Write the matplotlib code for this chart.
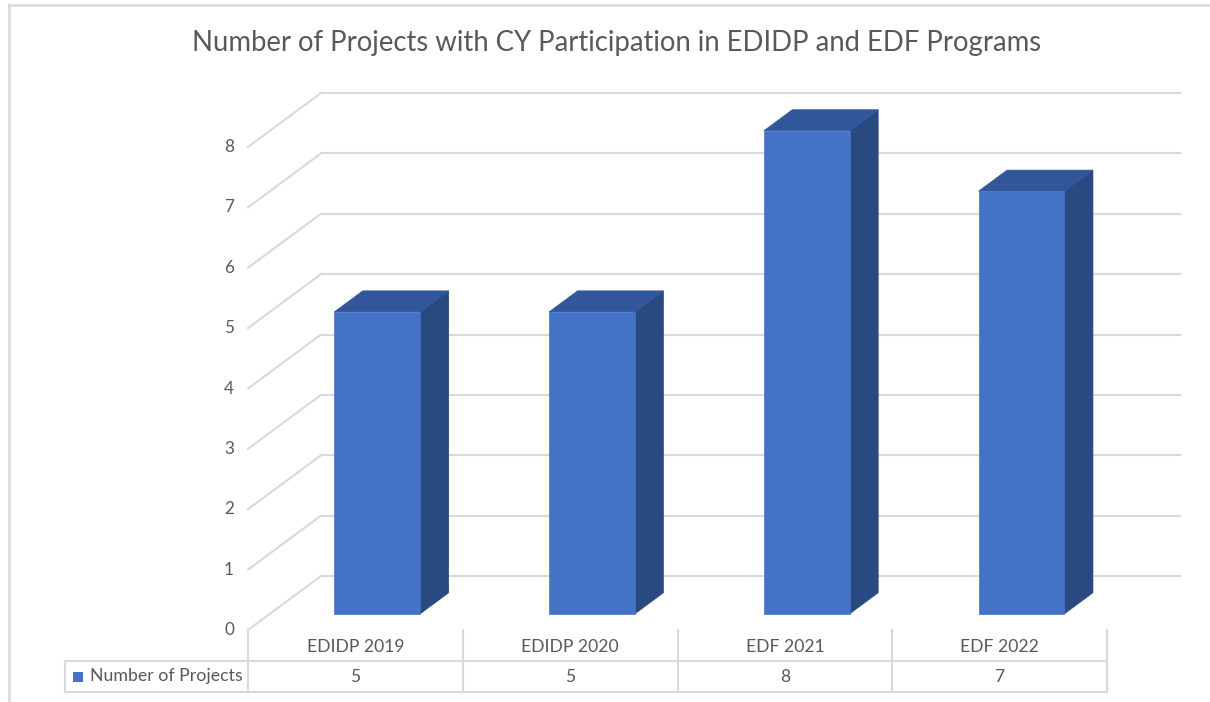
import matplotlib
matplotlib.use("Agg")
import matplotlib.pyplot as plt
from matplotlib.patches import Polygon, Rectangle
from matplotlib.lines import Line2D

# ---------------- data ----------------
categories = ["EDIDP 2019", "EDIDP 2020", "EDF 2021", "EDF 2022"]
values = [5, 5, 8, 7]
series_name = "Number of Projects"
title = "Number of Projects with CY Participation in EDIDP and EDF Programs"
y_ticks = [0, 1, 2, 3, 4, 5, 6, 7, 8]

# ---------------- style ----------------
FONT = ["Lato", "DejaVu Sans"]
TXT = "#595959"
GRID = "#D9D9D9"
C_FRONT = "#4472C4"
C_TOP = "#32569A"
C_SIDE = "#294A80"

W, H = 1210, 702
fig = plt.figure(figsize=(W / 100, H / 100), dpi=100)
fig.patch.set_facecolor("white")

# front plane of the 3D box in pixels
FX0, FX1, FY0, FY1 = 248, 1107, 630, 147
ax = fig.add_axes([FX0 / W, (H - FY0) / H, (FX1 - FX0) / W, (FY0 - FY1) / H])
ax.set_xlim(-0.5, len(categories) - 0.5)
ax.set_ylim(0, max(y_ticks))
ax.axis("off")

px_x = (FX1 - FX0) / len(categories)      # px per category
px_y = (FY0 - FY1) / max(y_ticks)         # px per value unit
DX = 73 / px_x                            # depth offset in data units
DY = 54 / px_y


def P(x, y, d):
    return (x + d * DX, y + d * DY)


# gridlines: back wall + side wall, tick labels
for v in y_ticks:
    a, b = P(-0.5, v, 1), P(len(categories) - 0.5, v, 1)
    ax.add_line(Line2D([a[0], b[0]], [a[1], b[1]], color=GRID, lw=1.5, zorder=1, clip_on=False))
    a, b = P(-0.5, v, 0), P(-0.5, v, 1)
    ax.add_line(Line2D([a[0], b[0]], [a[1], b[1]], color=GRID, lw=1.5, zorder=1, clip_on=False))
    ax.text(-0.5 - 14 / px_x, v, str(v), ha="right", va="center",
            fontsize=12.3, color=TXT, family=FONT, clip_on=False)

# bars
BW = 0.40
D0, D1 = 0.30, 0.69
for i, val in enumerate(values):
    x0, x1 = i - BW / 2, i + BW / 2
    front = [P(x0, 0, D0), P(x1, 0, D0), P(x1, val, D0), P(x0, val, D0)]
    top = [P(x0, val, D0), P(x1, val, D0), P(x1, val, D1), P(x0, val, D1)]
    side = [P(x1, 0, D0), P(x1, 0, D1), P(x1, val, D1), P(x1, val, D0)]
    for pts, c in ((side, C_SIDE), (top, C_TOP), (front, C_FRONT)):
        ax.add_patch(Polygon(pts, closed=True, facecolor=c, edgecolor=c, lw=0.5,
                             zorder=3, clip_on=False))

# data table
R1 = -31 / px_y
R2 = -62 / px_y
XL = -0.5 - (FX0 - 65) / px_x
n = len(categories)
for k in range(n + 1):
    xk = -0.5 + k
    ax.add_line(Line2D([xk, xk], [0, R2], color=GRID, lw=1.5, clip_on=False, zorder=1))
for yy in (R1, R2):
    ax.add_line(Line2D([XL, n - 0.5], [yy, yy], color=GRID, lw=1.5, clip_on=False, zorder=1))
ax.add_line(Line2D([XL, XL], [R1, R2], color=GRID, lw=1.5, clip_on=False, zorder=1))

for i, (c, v) in enumerate(zip(categories, values)):
    ax.text(i, R1 / 2 - 2 / px_y, c, ha="center", va="center", fontsize=12.6,
            color=TXT, family=FONT, clip_on=False)
    ax.text(i, (R1 + R2) / 2, str(v), ha="center", va="center", fontsize=12.6,
            color=TXT, family=FONT, clip_on=False)

# legend key in table
ks = 10 / px_x
ax.add_patch(Rectangle((XL + 8 / px_x, (R1 + R2) / 2 - 5 / px_y), ks, 10 / px_y,
                       facecolor=C_FRONT, edgecolor="none", clip_on=False))
ax.text(-0.5 - 5 / px_x, (R1 + R2) / 2, series_name, ha="right", va="center",
        fontsize=12.8, color=TXT, family=FONT, clip_on=False)

# title
fig.text(617 / W, 1 - 43 / H, title, ha="center", va="center", fontsize=19.8,
         color=TXT, family=FONT)

# outer chart border (top and left visible)
fig.add_artist(Line2D([9 / W, 9 / W], [0, 1 - 5 / H], color=GRID, lw=1.8,
                      transform=fig.transFigure))
fig.add_artist(Line2D([9 / W, 1], [1 - 5 / H, 1 - 5 / H], color=GRID, lw=1.8,
                      transform=fig.transFigure))

fig.savefig("out.png", dpi=100, facecolor="white")
